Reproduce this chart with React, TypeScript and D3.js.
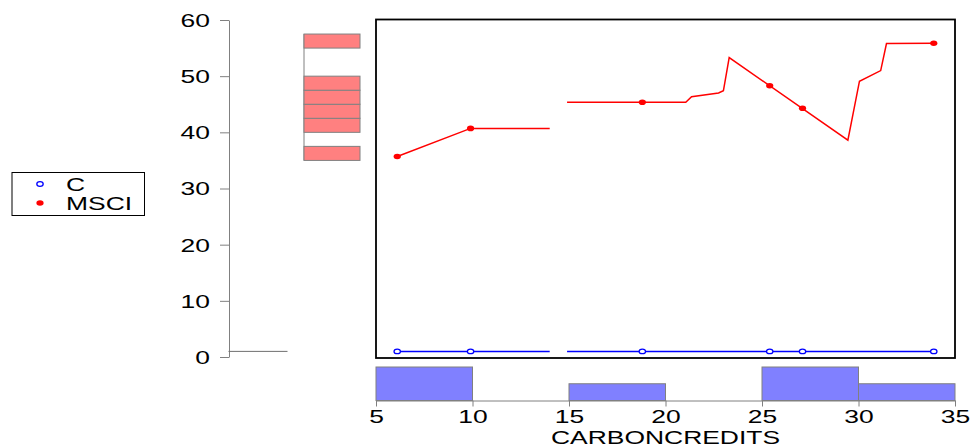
import React, { useEffect, useRef } from 'react';
import * as d3 from 'd3';

// observations
const carbonCredits = [6.1, 9.9, 18.8, 25.4, 27.1, 33.9];
const msci = [35.7, 40.7, 45.35, 48.3, 44.3, 55.85];
const cValues = [1, 1, 1, 1, 1, 1];

// connecting line of MSCI (broken between 14 and 14.9)
const msciLineX1 = [6.1, 9.9, 14.0];
const msciLineY1 = [35.7, 40.7, 40.7];
const msciLineX2 = [14.9, 21.05, 21.35, 22.75, 23.0, 23.3, 29.45, 30.05, 31.15, 31.45, 33.9];
const msciLineY2 = [45.35, 45.35, 46.35, 47.0, 47.4, 53.3, 38.6, 49.1, 51.0, 55.8, 55.85];
const cLineX1 = [6.1, 14.0];
const cLineX2 = [14.9, 33.9];

const xTicks = [5, 10, 15, 20, 25, 30, 35];
const yTicks = [0, 10, 20, 30, 40, 50, 60];
const xBins = [10, 15, 20, 25, 30];
const yBins = [37.5, 40, 42.5, 45, 47.5, 50, 52.5, 55];
const seriesNames = ['C', 'MSCI'];
const xLabel = 'CARBONCREDITS';

const FONT = '"Liberation Sans", Arial, sans-serif';
const STRETCH = 1.47;

const App = () => {
  const ref = useRef<SVGSVGElement>(null);

  useEffect(() => {
    const svg = d3.select(ref.current);
    svg.selectAll('*').remove();

    const plot = { left: 376, right: 955, top: 20, bottom: 357 };
    const xScale = d3.scaleLinear().domain([5, 35]).range([plot.left, plot.right]);
    const yScale = d3.scaleLinear().domain([0, 60]).range([plot.bottom, plot.top]);

    const line = d3
      .line<[number, number]>()
      .x((d) => xScale(d[0]))
      .y((d) => yScale(d[1]));

    // frame
    svg
      .append('rect')
      .attr('x', plot.left)
      .attr('y', plot.top - 0.5)
      .attr('width', plot.right - plot.left)
      .attr('height', 358 - plot.top + 0.5)
      .attr('fill', 'none')
      .attr('stroke', '#000')
      .attr('stroke-width', 1.8);

    // y axis
    const yAxis = svg
      .append('g')
      .attr('transform', 'translate(229,0)')
      .call(d3.axisLeft(yScale).tickValues(yTicks).tickSize(9).tickSizeOuter(0));
    yAxis.select('.domain').attr('stroke', '#808080');
    yAxis.selectAll('.tick line').attr('stroke', '#808080');
    yAxis
      .selectAll('.tick text')
      .attr('x', null)
      .attr('dy', '0.36em')
      .attr('transform', `translate(-19,0) scale(${STRETCH},1)`)
      .attr('font-family', FONT)
      .attr('font-size', 18)
      .attr('fill', '#000');

    // marginal histogram of C (all values equal -> flat bar)
    const cBins = d3.bin().domain([1, 1]).thresholds([])(cValues);
    const cCount = d3
      .scaleLinear()
      .domain([0, d3.max(cBins, (b) => b.length) as number])
      .range([229, 287]);
    svg
      .append('g')
      .selectAll('rect')
      .data(cBins)
      .enter()
      .append('rect')
      .attr('x', cCount(0))
      .attr('y', (b) => yScale(b.x1 as number))
      .attr('width', (b) => cCount(b.length) - cCount(0))
      .attr('height', (b) => Math.max(0.01, yScale(b.x0 as number) - yScale(b.x1 as number)))
      .attr('fill', '#8080ff')
      .attr('stroke', '#707070')
      .attr('stroke-width', 1);

    // marginal histogram of MSCI
    const mBins = d3.bin().domain([35, 57.5]).thresholds(yBins)(msci);
    const mCount = d3
      .scaleLinear()
      .domain([0, d3.max(mBins, (b) => b.length) as number])
      .range([304, 360]);
    svg
      .append('line')
      .attr('x1', mCount(0))
      .attr('x2', mCount(0))
      .attr('y1', yScale(57.5))
      .attr('y2', yScale(35))
      .attr('stroke', '#808080');
    svg
      .append('g')
      .selectAll('rect')
      .data(mBins.filter((b) => b.length > 0))
      .enter()
      .append('rect')
      .attr('x', mCount(0))
      .attr('y', (b) => yScale(b.x1 as number))
      .attr('width', (b) => mCount(b.length) - mCount(0))
      .attr('height', (b) => yScale(b.x0 as number) - yScale(b.x1 as number))
      .attr('fill', '#ff8080')
      .attr('stroke', '#808080')
      .attr('stroke-width', 1);

    // bottom histogram of CARBONCREDITS
    const xb = d3.bin().domain([5, 35]).thresholds(xBins)(carbonCredits);
    const xCount = d3
      .scaleLinear()
      .domain([0, d3.max(xb, (b) => b.length) as number])
      .range([400.5, 367]);
    svg
      .append('g')
      .selectAll('rect')
      .data(xb.filter((b) => b.length > 0))
      .enter()
      .append('rect')
      .attr('x', (b) => xScale(b.x0 as number))
      .attr('y', (b) => xCount(b.length))
      .attr('width', (b) => xScale(b.x1 as number) - xScale(b.x0 as number))
      .attr('height', (b) => xCount(0) - xCount(b.length))
      .attr('fill', '#8080ff')
      .attr('stroke', '#808080')
      .attr('stroke-width', 1);

    // x axis
    const xAxis = svg
      .append('g')
      .attr('transform', 'translate(0,400.5)')
      .call(d3.axisBottom(xScale).tickValues(xTicks).tickSize(6).tickSizeOuter(0));
    xAxis.select('.domain').attr('stroke', '#808080');
    xAxis.selectAll('.tick line').attr('stroke', '#808080');
    xAxis
      .selectAll('.tick text')
      .attr('y', null)
      .attr('dy', null)
      .attr('transform', `translate(0,22.5) scale(${STRETCH},1)`)
      .attr('font-family', FONT)
      .attr('font-size', 18)
      .attr('fill', '#000');

    svg
      .append('text')
      .attr('transform', `translate(${(plot.left + plot.right) / 2},444) scale(${STRETCH},1)`)
      .attr('text-anchor', 'middle')
      .attr('font-family', FONT)
      .attr('font-size', 18)
      .text(xLabel);

    // series lines
    const lines = svg.append('g').attr('fill', 'none').attr('stroke-width', 1.5);
    [
      [cLineX1, cLineX1.map(() => cValues[0])],
      [cLineX2, cLineX2.map(() => cValues[0])],
    ].forEach(([xs, ys]) => {
      lines
        .append('path')
        .attr('stroke', '#0000ff')
        .attr('d', line(xs.map((x, i) => [x, ys[i]] as [number, number])));
    });
    [
      [msciLineX1, msciLineY1],
      [msciLineX2, msciLineY2],
    ].forEach(([xs, ys]) => {
      lines
        .append('path')
        .attr('stroke', '#ff0000')
        .attr('d', line(xs.map((x, i) => [x, ys[i]] as [number, number])));
    });

    // markers
    svg
      .append('g')
      .selectAll('ellipse')
      .data(carbonCredits)
      .enter()
      .append('ellipse')
      .attr('cx', (d) => xScale(d))
      .attr('cy', (d, i) => yScale(cValues[i]))
      .attr('rx', 3.2)
      .attr('ry', 2.3)
      .attr('fill', '#fff')
      .attr('stroke', '#0000ff')
      .attr('stroke-width', 1.3);
    svg
      .append('g')
      .selectAll('ellipse')
      .data(carbonCredits)
      .enter()
      .append('ellipse')
      .attr('cx', (d) => xScale(d))
      .attr('cy', (d, i) => yScale(msci[i]))
      .attr('rx', 3.6)
      .attr('ry', 2.8)
      .attr('fill', '#ff0000');

    // legend
    const legend = svg.append('g');
    legend
      .append('rect')
      .attr('x', 12)
      .attr('y', 172.5)
      .attr('width', 132.5)
      .attr('height', 43)
      .attr('fill', '#fff')
      .attr('stroke', '#000')
      .attr('stroke-width', 1);
    seriesNames.forEach((name, i) => {
      const cy = 184 + i * 19;
      if (i === 0) {
        legend
          .append('ellipse')
          .attr('cx', 40)
          .attr('cy', cy)
          .attr('rx', 3.2)
          .attr('ry', 2.3)
          .attr('fill', '#fff')
          .attr('stroke', '#0000ff')
          .attr('stroke-width', 1.3);
      } else {
        legend
          .append('ellipse')
          .attr('cx', 40)
          .attr('cy', cy)
          .attr('rx', 3.6)
          .attr('ry', 2.8)
          .attr('fill', '#ff0000');
      }
      legend
        .append('text')
        .attr('transform', `translate(66,${cy + 6.5}) scale(${STRETCH},1)`)
        .attr('font-family', FONT)
        .attr('font-size', 18)
        .text(name);
    });
  }, []);

  return (
    <svg
      ref={ref}
      width={971}
      height={448}
      style={{ position: 'absolute', left: 0, top: 0, background: '#fff' }}
    ></svg>
  );
};

export default App;
